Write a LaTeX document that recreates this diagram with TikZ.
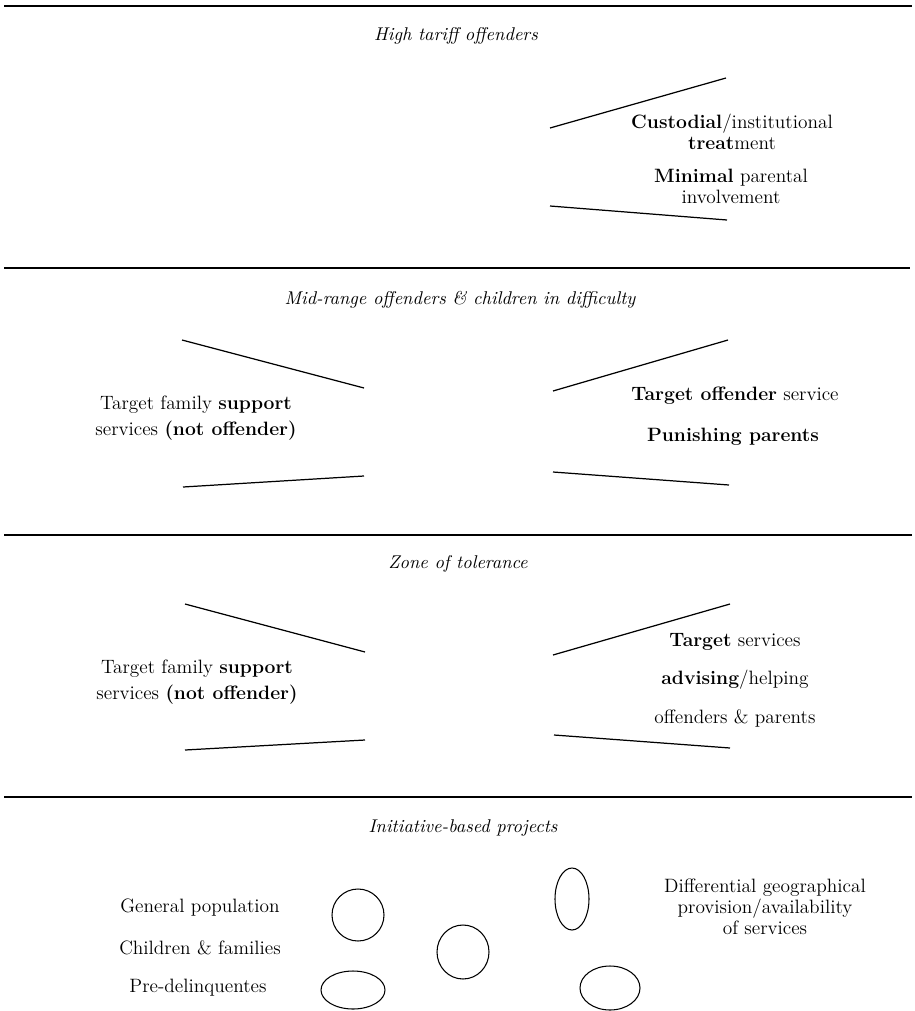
\documentclass[tikz,border=0pt]{standalone}
\usepackage{tikz}
\usetikzlibrary{positioning}

\begin{document}
\begin{tikzpicture}[%
  x=0.02cm, y=-0.02cm,
  band/.style={line width=0.8pt},
  funnel/.style={line width=0.7pt},
  zone/.style={font=\fontsize{10.5}{12}\selectfont\itshape},
  label/.style={align=center, font=\fontsize{11}{12}\selectfont},
  blob/.style={line width=0.6pt},
]

  \useasboundingbox (0,0) rectangle (914,1011);

  % bands
  \draw[band] (4,6) -- (912,6);
  \draw[band] (4,268) -- (910,268);
  \draw[band] (4,535) -- (912,535);
  \draw[band] (4,797) -- (912,797);

  \node[zone] (high) at (456,36) {High tariff offenders};
  \node[zone] (mid) at (460,300) {Mid-range offenders \& children in difficulty};
  \node[zone] (tol) at (458,564) {Zone of tolerance};
  \node[zone] (init) at (463,828) {Initiative-based projects};

  % high tariff
  \draw[funnel] (550,128) -- (726,78);
  \draw[funnel] (550,206) -- (727,220);
  \node[label] (cust) at (732,132) {\textbf{Custodial}/institutional\\\textbf{treat}ment};
  \node[label] (minimal) at (731,186) {\textbf{Minimal} parental\\involvement};

  % mid-range
  \draw[funnel] (182,340) -- (364,388);
  \draw[funnel] (183,487) -- (364,476);
  \node[label] (famA) at (196,418) {Target family \textbf{support}\\[3pt]services \textbf{(not offender)}};
  \draw[funnel] (553,391) -- (728,340);
  \draw[funnel] (553,472) -- (729,485);
  \node[label] (offserv) at (735,396) {\textbf{Target offender} service};
  \node[label] (punish) at (733,437) {\textbf{Punishing parents}};

  % zone of tolerance
  \draw[funnel] (185,604) -- (365,652);
  \draw[funnel] (185,750) -- (365,740);
  \node[label] (famB) at (197,682) {Target family \textbf{support}\\[3pt]services \textbf{(not offender)}};
  \draw[funnel] (553,655) -- (730,604);
  \draw[funnel] (554,735) -- (730,748);
  \node[label] (advise) at (735,680) {\textbf{Target} services\\[10pt]\textbf{advising}/helping\\[10pt]offenders \& parents};

  % initiative-based
  \node[label] (genpop) at (200,908) {General population};
  \node[label] (child) at (200,948) {Children \& families};
  \node[label] (predel) at (198,988) {Pre-delinquentes};
  \node[label] (geo) at (765,907) {Differential geographical\\provision/availability\\of services};

  \draw[blob] (358,915) ellipse [x radius=26, y radius=26];
  \draw[blob] (463,952) ellipse [x radius=26, y radius=27];
  \draw[blob] (353,990) ellipse [x radius=32, y radius=19];
  \draw[blob] (572,899) ellipse [x radius=17, y radius=31];
  \draw[blob] (610,988) ellipse [x radius=30, y radius=22];

\end{tikzpicture}
\end{document}
